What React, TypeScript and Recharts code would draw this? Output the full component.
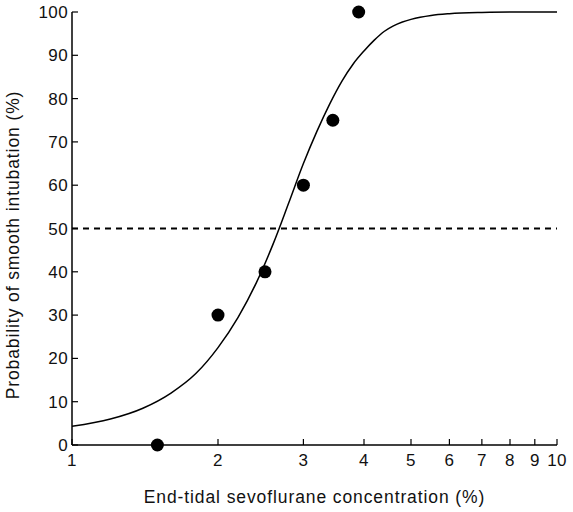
import {
  ComposedChart, Line, Scatter, XAxis, YAxis, ReferenceLine, Label,
} from 'recharts'

// observed percentages of smooth intubation
const obsConc = [1.5, 2, 2.5, 3, 3.45, 3.9]
const obsProb = [0, 30, 40, 60, 75, 100]

// fitted curve
const fitConc = [1, 1.2, 1.4, 1.6, 1.8, 2, 2.2, 2.4, 2.6, 2.8, 3, 3.2, 3.4, 3.6, 3.8, 4, 4.2, 4.4, 4.6, 4.8, 5, 5.5, 6, 7, 8, 10]
const fitProb = [4.3, 6, 8.5, 12, 16.5, 22.5, 29.5, 37.5, 46.5, 56, 65, 72.5, 78.8, 84, 88, 91, 93.5, 95.5, 96.8, 97.7, 98.3, 99.2, 99.6, 99.9, 100, 100]

const xTicks = [1, 2, 3, 4, 5, 6, 7, 8, 9, 10]
const yTicks = [0, 10, 20, 30, 40, 50, 60, 70, 80, 90, 100]

const observed = obsConc.map((x, i) => ({ x, y: obsProb[i] }))
const fitted = fitConc.map((x, i) => ({ x, y: fitProb[i] }))

const FONT = '"Liberation Sans", Arial, Helvetica, sans-serif'
const MARGIN = 4
const TXT = { fontSize: 17, fontFamily: FONT, fill: '#111', letterSpacing: 0.4 }
const TITLE = { fontSize: 17.5, fontFamily: FONT, fill: '#111', letterSpacing: 0.9 }

const YTick = (p: any) => {
  const { x, y, payload } = p
  return (
    <g>
      <line x1={x + MARGIN} x2={x + MARGIN + 6} y1={y} y2={y} stroke="#000" strokeWidth={1.2} />
      <text x={x} y={y} dy={6} textAnchor="end" {...TXT}>
        {payload.value}
      </text>
    </g>
  )
}

const XTick = (p: any) => {
  const { x, y, payload } = p
  return (
    <g>
      <line x1={x} x2={x} y1={y - MARGIN} y2={y - MARGIN - 6} stroke="#000" strokeWidth={1.2} />
      <text x={x} y={y} dy={17} textAnchor="middle" {...TXT}>
        {payload.value}
      </text>
    </g>
  )
}

export default function App() {
  return (
    <div style={{ position: 'absolute', left: 0, top: 0, background: '#fff' }}>
      <ComposedChart width={573} height={512} margin={{ top: 12, right: 16, bottom: 0, left: 2 }}>
        <XAxis
          type="number" dataKey="x" scale="log" domain={[1, 10]} ticks={xTicks}
          allowDataOverflow tickSize={0} tickMargin={MARGIN} tick={<XTick />}
          stroke="#000" strokeWidth={1.5} height={67}
        >
          <Label
            value="End-tidal sevoflurane concentration (%)" position="insideBottom" offset={9}
            style={TITLE}
          />
        </XAxis>
        <YAxis
          type="number" dataKey="y" domain={[0, 100]} ticks={yTicks}
          tickSize={0} tickMargin={MARGIN} tick={<YTick />}
          stroke="#000" strokeWidth={1.5} width={70}
        >
          <Label
            content={() => (
              <text transform="translate(19,245) rotate(-90)" textAnchor="middle" {...TITLE}>
                Probability of smooth intubation (%)
              </text>
            )}
          />
        </YAxis>
        <ReferenceLine y={50} stroke="#000" strokeWidth={2} strokeDasharray="6 5" />
        <Line
          data={fitted} dataKey="y" type="monotone" stroke="#000" strokeWidth={1.5}
          dot={false} activeDot={false} isAnimationActive={false}
        />
        <Scatter
          data={observed} dataKey="y" fill="#000"
          shape={(p: any) => <circle cx={p.cx} cy={p.cy} r={6.5} fill="#000" />}
          isAnimationActive={false}
        />
      </ComposedChart>
    </div>
  )
}
